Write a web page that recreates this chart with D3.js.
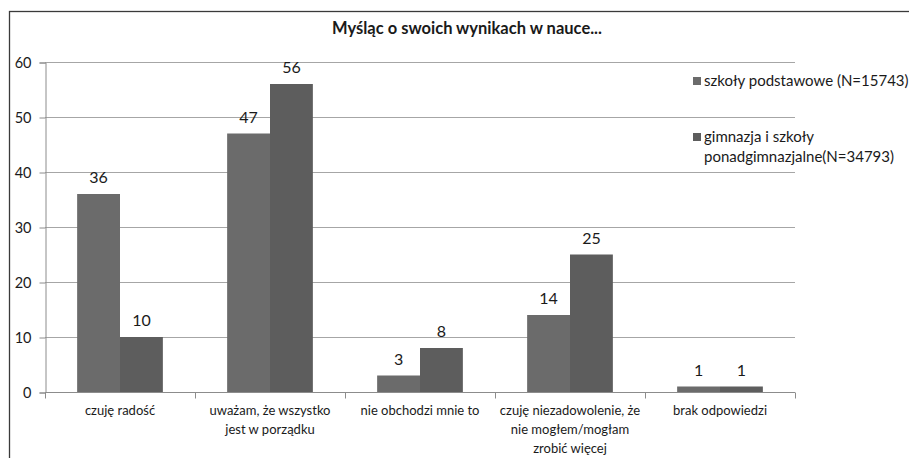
<!DOCTYPE html>
<html>
<head>
<meta charset="utf-8">
<script src="https://cdn.jsdelivr.net/npm/d3@7"></script>
<style>
  body { margin: 0; background: #fff; }
  text { font-family: Lato, "Open Sans", sans-serif; fill: #1a1a1a; }
</style>
</head>
<body>
<div id="chart"></div>
<script>
var categories = [
    ['czuję radość'],
    ['uważam, że wszystko', 'jest w porządku'],
    ['nie obchodzi mnie to'],
    ['czuję niezadowolenie, że', 'nie mogłem/mogłam', 'zrobić więcej'],
    ['brak odpowiedzi']
];
var seriesNames = [
    ['szkoły podstawowe (N=15743)'],
    ['gimnazja i szkoły', 'ponadgimnazjalne(N=34793)']
];
var primary = [36, 47, 3, 14, 1];
var secondary = [10, 56, 8, 25, 1];
var yTicks = [0, 10, 20, 30, 40, 50, 60];
var colors = ['#6b6b6b', '#5d5d5d'];

var width = 909, height = 458;
var plot = {left: 45, right: 795, top: 62, bottom: 392};

var svg = d3.select('#chart').append('svg')
            .attr('width', width)
            .attr('height', height);

// outer frame (only top and left visible in the crop)
svg.append('rect')
   .attr('x', 9.5).attr('y', 11.5)
   .attr('width', width + 20).attr('height', height + 20)
   .attr('fill', 'none')
   .attr('stroke', '#3a3a3a')
   .attr('stroke-width', 1.3);

svg.append('text')
   .attr('x', 467).attr('y', 34)
   .attr('text-anchor', 'middle')
   .style('font-weight', 'bold')
   .style('font-size', '16.5px')
   .text('Myśląc o swoich wynikach w nauce...');

var x0 = d3.scaleBand()
           .domain(d3.range(categories.length))
           .range([plot.left, plot.right]);
var x1 = d3.scaleBand()
           .domain([0, 1])
           .range([0, x0.bandwidth()])
           .paddingOuter(0.75);
var y = d3.scaleLinear()
          .domain([0, 60])
          .range([plot.bottom, plot.top]);

// gridlines
svg.append('g')
   .selectAll('line')
   .data(yTicks.slice(1))
   .enter().append('line')
      .attr('x1', plot.left).attr('x2', plot.right)
      .attr('y1', function(d) { return y(d) + 0.5; })
      .attr('y2', function(d) { return y(d) + 0.5; })
      .attr('stroke', '#a6a6a6');

// y axis
var yAxis = d3.axisLeft(y).tickValues(yTicks).tickSize(6).tickPadding(8);
var gy = svg.append('g')
            .attr('transform', 'translate(' + (plot.left + 0.5) + ',0.5)')
            .call(yAxis);
gy.selectAll('path, line').attr('stroke', '#8c8c8c');
gy.selectAll('text').style('font-size', '14.5px').attr('fill', '#1a1a1a');

// bars
var groups = svg.append('g').selectAll('g')
    .data(primary.map(function(d, i) { return [d, secondary[i]]; }))
    .enter().append('g')
        .attr('transform', function(d, i) { return 'translate(' + x0(i) + ',0)'; });

groups.selectAll('rect')
    .data(function(d) { return d; })
    .enter().append('rect')
        .attr('x', function(d, j) { return x1(j); })
        .attr('width', x1.bandwidth())
        .attr('y', function(d) { return y(d); })
        .attr('height', function(d) { return y(0) - y(d); })
        .attr('fill', function(d, j) { return colors[j]; });

groups.selectAll('text.value')
    .data(function(d) { return d; })
    .enter().append('text')
        .attr('class', 'value')
        .attr('x', function(d, j) { return x1(j) + x1.bandwidth() / 2; })
        .attr('y', function(d) { return y(d) - 11; })
        .attr('text-anchor', 'middle')
        .style('font-size', '16px')
        .text(function(d) { return d; });

// x axis line and category ticks
var xAxisG = svg.append('g').attr('transform', 'translate(0,' + (plot.bottom + 0.5) + ')');
xAxisG.append('line')
      .attr('x1', plot.left).attr('x2', plot.right)
      .attr('stroke', '#8c8c8c');
xAxisG.selectAll('line.tick')
      .data(d3.range(categories.length + 1))
      .enter().append('line')
         .attr('class', 'tick')
         .attr('x1', function(i) { return plot.left + i * x0.step() + 0.5; })
         .attr('x2', function(i) { return plot.left + i * x0.step() + 0.5; })
         .attr('y1', 0).attr('y2', 6)
         .attr('stroke', '#8c8c8c');

var catLabels = svg.append('g').selectAll('text')
    .data(categories)
    .enter().append('text')
       .attr('text-anchor', 'middle')
       .style('font-size', '13px')
       .attr('transform', function(d, i) {
           return 'translate(' + (x0(i) + x0.bandwidth() / 2) + ',' + 415 + ')';
       });
catLabels.selectAll('tspan')
    .data(function(d) { return d; })
    .enter().append('tspan')
       .attr('x', 0)
       .attr('y', function(d, k) { return k * 19; })
       .text(function(d) { return d; });

// legend
var legendY = [81, 137];
var legend = svg.append('g').selectAll('g')
    .data(seriesNames)
    .enter().append('g')
       .attr('transform', function(d, i) { return 'translate(693,' + legendY[i] + ')'; });
legend.append('rect')
      .attr('x', 0).attr('y', -4)
      .attr('width', 8).attr('height', 8)
      .attr('fill', function(d, i) { return colors[i]; });
legend.append('text')
      .style('font-size', '15px')
      .selectAll('tspan')
      .data(function(d) { return d; })
      .enter().append('tspan')
         .attr('x', 11)
         .attr('y', function(d, k) { return 5 + k * 20; })
         .text(function(d) { return d; });
</script>
</body>
</html>
